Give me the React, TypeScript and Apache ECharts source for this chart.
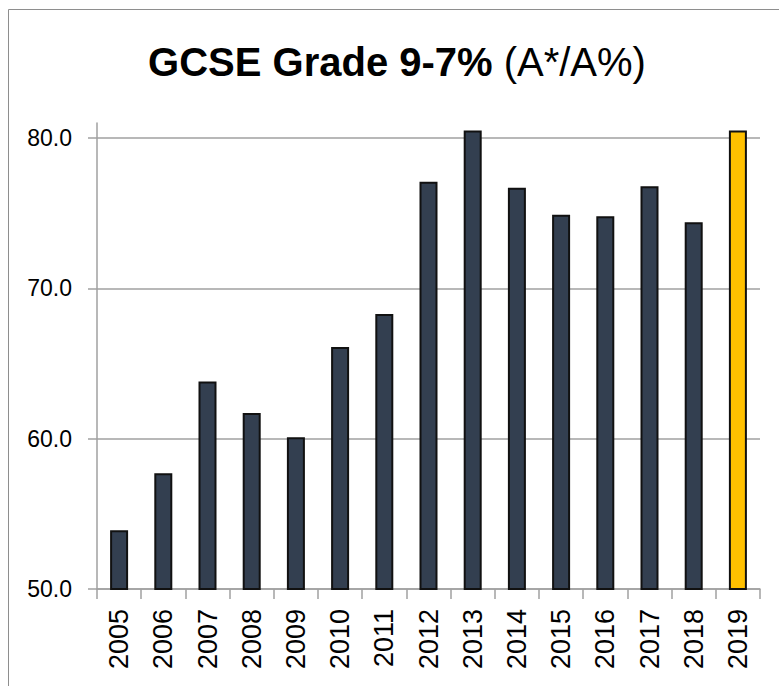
import React, { useEffect, useRef } from "react";
import * as echarts from "echarts";

const years = ["2005", "2006", "2007", "2008", "2009", "2010", "2011", "2012", "2013", "2014", "2015", "2016", "2017", "2018", "2019"];
const values = [53.9, 57.7, 63.8, 61.7, 60.1, 66.1, 68.3, 77.1, 80.5, 76.7, 74.9, 74.8, 76.8, 74.4, 80.5];
const highlightYear = "2019";
const yTicks = [50, 60, 70, 80];
const titleBold = "GCSE Grade 9-7%";
const titleRegular = "(A*/A%)";

export default function App() {
  const ref = useRef<HTMLDivElement>(null);
  useEffect(() => {
    if (!ref.current) return;
    const chart = echarts.init(ref.current, null, { renderer: "svg" });
    const font = "'Liberation Sans', Arial, sans-serif";
    chart.setOption({
      animation: false,
      backgroundColor: "#ffffff",
      graphic: [
        {
          type: "rect",
          shape: { x: 8.5, y: 9.5, width: 800, height: 700 },
          style: { fill: "none", stroke: "#8e8e8e", lineWidth: 1 },
          silent: true,
        },
        {
          type: "text",
          x: 397,
          y: 62,
          style: {
            text: `{b|${titleBold}}{s| }{r|${titleRegular}}`,
            align: "center",
            verticalAlign: "middle",
            rich: {
              b: { fontFamily: font, fontSize: 40, fontWeight: "bold", fill: "#000" },
              s: { fontFamily: font, fontSize: 40, fontWeight: "normal", fill: "#000", width: 11 },
              r: { fontFamily: font, fontSize: 40, fontWeight: "normal", fill: "#000" },
            },
          },
        },
      ],
      grid: { left: 97, right: 19, top: 123, bottom: 97, containLabel: false },
      xAxis: {
        type: "category",
        data: years,
        boundaryGap: true,
        axisLine: { show: true, lineStyle: { color: "#a0a0a0", width: 1.5 } },
        axisTick: { show: true, alignWithLabel: false, length: 10, lineStyle: { color: "#a0a0a0", width: 1.5 } },
        axisLabel: {
          rotate: 90,
          margin: 20,
          interval: 0,
          fontFamily: font,
          fontSize: 27,
          color: "#000",
        },
      },
      yAxis: {
        type: "value",
        min: 50,
        max: 81,
        interval: 10,
        axisLine: { show: true, lineStyle: { color: "#a0a0a0", width: 1.5 } },
        axisTick: { show: true, inside: false, length: 9, customValues: yTicks, lineStyle: { color: "#a0a0a0", width: 1.5 } },
        axisLabel: {
          customValues: yTicks,
          margin: 25,
          fontFamily: font,
          fontSize: 23,
          color: "#000",
          formatter: (v: number) => (v % 10 === 0 ? v.toFixed(1) : ""),
        },
        splitLine: {
          show: true,
          lineStyle: { color: ["#a0a0a0", "#a0a0a0", "#a0a0a0", "#a0a0a0", "rgba(0,0,0,0)"], width: 1.5 },
        },
      },
      series: [
        {
          type: "bar",
          barWidth: 18,
          data: values.map((v, i) => ({
            value: v,
            itemStyle: {
              color: years[i] === highlightYear ? "#FFC000" : "#333F50",
              borderColor: "#111111",
              borderWidth: 2,
            },
          })),
        },
      ],
    });
    return () => chart.dispose();
  }, []);
  return (
    <div
      ref={ref}
      style={{ position: "fixed", left: 0, top: 0, width: 779, height: 686 }}
    />
  );
}
